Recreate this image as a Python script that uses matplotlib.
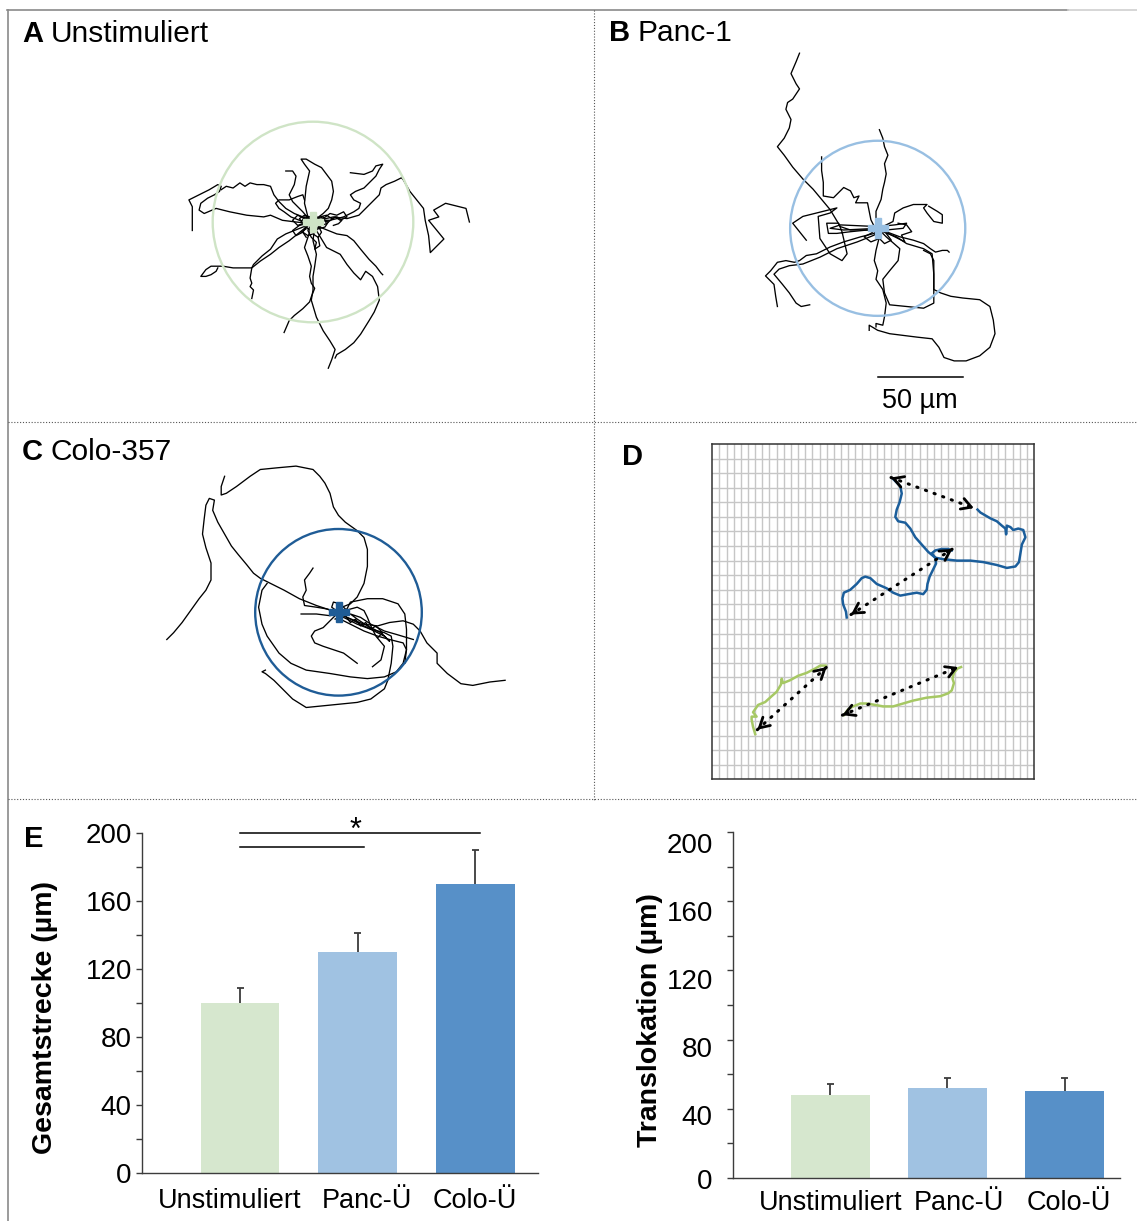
import numpy as np
import matplotlib
matplotlib.use("Agg")
import matplotlib.pyplot as plt
from matplotlib.patches import Circle
from matplotlib.transforms import ScaledTranslation

W, H = 1137, 1221
plt.rcParams['font.family'] = ['Liberation Sans', 'DejaVu Sans']

# ---- cell tracks (µm), every track starts at the common origin ----
tracks_unstim = [
    [(0, 0), (-3, 3), (-5, 11), (-4, 21), (-2, 30), (-5, 34), (-7, 37), (-4, 37), (1, 34), (5, 32),
     (8, 28), (11, 24), (12, 18), (11, 13), (9, 8), (6, 5), (2, 2)],
    [(0, 0), (-1, -1), (-10, 0), (-18, 1), (-25, 4), (-29, 3), (-39, 4), (-49, 6), (-57, 8), (-64, 5),
     (-67, 7), (-66, 11), (-62, 14), (-58, 16), (-55, 18), (-54, 21), (-56, 22), (-61, 19), (-67, 16),
     (-73, 13), (-71, 9), (-71, -5)],
    [(0, 0), (-1, 1), (-6, 3), (-11, 5), (-16, 8), (-20, 12), (-23, 16), (-25, 21), (-29, 22), (-33, 22),
     (-37, 23), (-40, 21), (-43, 23), (-47, 20), (-51, 21), (-54, 19)],
    [(0, 0), (-1, 0), (-6, 6), (-12, 12), (-14, 16), (-11, 22), (-10, 27), (-12, 30), (-16, 30)],
    [(0, 0), (-2, 0), (-8, 1), (-13, 3), (-17, 6), (-20, 8), (-22, 11), (-20, 13), (-14, 13), (-9, 15),
     (-6, 16), (-5, 13)],
    [(0, 0), (2, 1), (10, 1), (18, 3), (24, 6), (27, 8), (28, 11), (24, 13), (22, 16), (25, 18), (30, 20),
     (34, 24), (37, 27), (39, 31), (41, 34), (37, 33), (35, 30), (30, 28), (22, 29)],
    [(0, 0), (3, 1), (12, 3), (20, 2), (27, 4), (31, 8), (35, 12), (39, 16), (40, 20), (43, 22), (48, 24),
     (52, 26), (53, 25), (57, 18), (61, 13), (65, 8), (66, 1), (68, -8), (69, -18), (77, -10), (68, 1),
     (74, 3), (71, 7), (78, 11), (90, 8), (92, 0)],
    [(0, 0), (-1, -1), (-6, -3), (-11, -5), (-16, -7), (-21, -10), (-25, -16), (-30, -20), (-35, -25),
     (-36, -27), (-42, -27), (-47, -27), (-53, -26), (-57, -26), (-60, -26), (-63, -28), (-66, -32),
     (-63, -32), (-60, -31), (-57, -29), (-56, -27)],
    [(0, 0), (-4, -3), (-9, -7), (-14, -11), (-20, -15), (-25, -19), (-31, -23), (-36, -27), (-37, -33),
     (-36, -36), (-37, -38), (-35, -40), (-36, -45)],
    [(0, 0), (-1, -3), (-3, -9), (-5, -15), (-3, -20), (-1, -26), (-2, -32), (-1, -36), (1, -39),
     (-1, -44), (-2, -47), (-6, -51), (-11, -55), (-14, -58), (-17, -65)],
    [(0, 0), (1, -3), (0, -11), (2, -19), (1, -26), (0, -32), (0, -40), (-1, -46), (2, -56), (6, -64),
     (10, -70), (13, -75), (11, -81), (9, -86)],
    [(0, 0), (2, -5), (8, -15), (16, -19), (20, -25), (24, -30), (28, -34), (31, -29), (35, -32), (38, -38),
     (39, -46), (36, -53), (33, -58), (28, -66), (24, -71), (19, -75), (14, -78), (13, -80)],
    [(0, 0), (4, -3), (14, -7), (20, -8), (24, -11), (28, -16), (33, -22), (37, -26), (40, -30), (41, -31)],
    [(0, 0), (-4, -2), (-7, 0), (-5, 3), (-1, 2), (3, -1), (6, 1), (9, 0), (7, -3), (3, -4), (0, -6), (-3, -4)],
    [(0, 0), (4, 3), (8, 4), (11, 2), (14, 3), (17, 1), (15, -1), (12, -2)],
    [(0, 0), (-3, -5), (-1, -9), (2, -12), (1, -16), (4, -14), (3, -9)],
    [(0, 0), (-8, -2), (-12, -5), (-10, -8), (-6, -6), (-4, -9)],
    [(0, 0), (-3, 1), (-6, -1), (-8, 2), (-5, 4), (-2, 3), (1, 5), (3, 2), (6, 3), (8, -1), (5, -2),
     (2, -4), (-1, -2)],
    [(0, 0), (2, -3), (-1, -5), (-4, -3), (-6, -6), (-3, -8), (0, -7), (3, -9), (5, -6), (3, -2)],
    [(0, 0), (6, 2), (10, 5), (14, 4), (18, 6), (20, 3), (16, 1), (13, 3), (9, 0)],
    [(0, 0), (-5, 2), (-9, 4), (-12, 1), (-9, -2), (-6, -1), (-4, -4), (-7, -6)],
]

tracks_panc = [
    [(0, 0), (-1, -1), (-8, -1), (-16, -1), (-22, 1), (-25, 6), (-28, 11), (-33, 17), (-38, 23), (-44, 29),
     (-50, 36), (-55, 43), (-59, 48), (-55, 53), (-52, 59), (-51, 64), (-54, 70), (-53, 74), (-50, 76),
     (-46, 82), (-48, 85), (-51, 91), (-48, 98), (-46, 103)],
    [(0, 0), (0, 1), (-1, 5), (-1, 10), (2, 17), (3, 23), (4, 27), (5, 32), (4, 38), (6, 43), (4, 48),
     (3, 53), (1, 58)],
    [(0, 0), (-2, 1), (-4, 5), (-6, 15), (-13, 15), (-11, 19), (-14, 18), (-16, 22), (-20, 24), (-26, 18),
     (-32, 19), (-32, 27), (-33, 34), (-33, 42)],
    [(0, 0), (-6, -1), (-16, -2), (-24, -3), (-29, -3), (-30, 3), (-23, 3), (-21, -2), (-18, -15),
     (-21, -19), (-28, -15), (-34, -6), (-35, 7), (-28, 9), (-24, 12), (-44, 7), (-50, 3), (-46, -2),
     (-42, -7)],
    [(0, 0), (-2, -3), (-10, -5), (-20, -8), (-28, -11), (-36, -15), (-42, -16), (-46, -19), (-49, -20),
     (-54, -19), (-59, -20), (-63, -25), (-66, -28), (-61, -33), (-60, -40), (-59, -46)],
    [(0, 0), (-2, -4), (-12, -8), (-24, -12), (-34, -17), (-44, -21), (-52, -22), (-58, -24), (-61, -27),
     (-56, -33), (-52, -38), (-48, -44), (-45, -46), (-40, -45)],
    [(0, 0), (1, -5), (-1, -13), (-2, -19), (0, -25), (-1, -30), (3, -36), (5, -44), (4, -52), (3, -57),
     (-1, -56), (-1, -58)],
    [(0, 0), (3, -2), (11, -5), (17, -9), (27, -12), (32, -15), (33, -27), (33, -36), (37, -38), (43, -40),
     (50, -41), (60, -42), (66, -46), (68, -54), (69, -62), (66, -70), (60, -75), (52, -78), (45, -78),
     (39, -76), (36, -70), (32, -65), (23, -64), (15, -63), (7, -62), (0, -60), (-5, -57), (-5, -60)],
    [(0, 0), (5, -5), (13, -12), (12, -19), (7, -25), (3, -30), (4, -38), (7, -45), (17, -46), (27, -47),
     (33, -44), (33, -30), (33, -19), (31, -15), (27, -13)],
    [(0, 0), (3, 1), (9, 4), (10, 9), (15, 12), (21, 14), (29, 14), (27, 12), (29, 9), (33, 4), (38, 3),
     (38, 8), (35, 10), (30, 13)],
    [(0, 0), (5, -2), (13, -5), (21, -7), (27, -9), (31, -12), (34, -14), (38, -13), (41, -13), (42, -14)],
    [(0, 0), (-20, -1), (-28, 0), (-22, 2), (0, 1), (10, 2), (17, 3), (15, 0), (5, -1)],
    [(0, 0), (6, -3), (12, -6), (16, -8), (14, -4), (20, -2), (17, 2), (12, 3)],
    [(0, 0), (-4, -3), (-8, -5), (-4, -8), (1, -6), (4, -9), (8, -7), (5, -3)],
]

tracks_colo = [
    [(0, 0), (2, 3), (7, 5), (11, 9), (15, 17), (17, 27), (17, 37), (15, 44), (11, 48), (4, 53), (0, 57),
     (-3, 62), (-5, 70), (-8, 76), (-11, 80), (-15, 84), (-25, 86), (-36, 85), (-46, 84), (-52, 80),
     (-60, 74), (-66, 70), (-69, 69), (-69, 74), (-67, 80)],
    [(0, 0), (-4, 1), (-13, 4), (-23, 8), (-32, 13), (-40, 17), (-46, 20), (-50, 23), (-54, 28), (-59, 34),
     (-63, 39), (-67, 46), (-71, 53), (-74, 60), (-73, 66), (-76, 67), (-78, 63), (-79, 55), (-80, 46),
     (-78, 38), (-75, 29), (-75, 19), (-78, 13), (-82, 8), (-87, 1), (-92, -6), (-97, -12), (-101, -16)],
    [(0, 0), (-1, -3), (7, -7), (15, -11), (23, -14), (30, -16), (38, -18), (40, -22), (38, -30), (34, -35),
     (27, -38), (17, -39), (7, -38), (-5, -36), (-19, -34), (-28, -30), (-35, -24), (-42, -14), (-45, -7),
     (-47, 3), (-45, 13), (-42, 17)],
    [(0, 0), (3, -3), (11, -7), (19, -10), (27, -12), (31, -14), (32, -20), (31, -30), (29, -40), (27, -45),
     (19, -51), (11, -53), (1, -54), (-9, -55), (-19, -56), (-27, -51), (-32, -46), (-38, -40), (-43, -36),
     (-45, -35), (-43, -34)],
    [(0, 0), (5, -3), (15, -7), (23, -8), (30, -6), (38, -5), (44, -7), (48, -11), (52, -18), (58, -24),
     (58, -30), (64, -36), (72, -42), (79, -43), (89, -41), (98, -40)],
    [(0, 0), (5, 2), (7, 6), (17, 8), (26, 8), (35, 5), (39, -1), (40, -10), (40, -22), (39, -30)],
    [(0, 0), (-7, 2), (-13, 3), (-20, 4), (-21, 9), (-19, 13), (-20, 19), (-17, 23), (-15, 26)],
    [(0, 0), (-5, -2), (-13, -1), (-22, -1)],
    [(0, 0), (-4, -4), (-9, -9), (-14, -11), (-16, -14), (-14, -18), (-9, -20), (-3, -22), (3, -24),
     (7, -27), (11, -30)],
    [(0, 0), (3, -2), (9, -5), (15, -8), (21, -11), (27, -14), (30, -17), (25, -12), (17, -8), (11, -4),
     (7, -1), (13, -3), (19, -7), (27, -11), (34, -13), (44, -16)],
    [(0, 0), (11, 3), (15, 1), (17, -3), (19, -8), (22, -14), (27, -20), (25, -28), (20, -32)],
    [(0, 0), (-4, 3), (-3, 6), (1, 5), (4, 2), (2, -2), (-2, -4)],
    [(0, 0), (4, -2), (7, -6), (10, -4), (13, -8), (16, -6), (19, -10), (22, -8), (26, -12), (23, -15)],
]

# mean translocation radius per condition (µm)
radius_unstim, radius_panc, radius_colo = 59, 51.5, 49
scalebar_um = 50

# ---- panel D: two example tracks per group on the grid (grid units) ----
d_blue_1x = [25.3, 26.3, 26.5, 26.2, 25.8, 25.6, 26.0, 27.0, 27.7, 28.4, 29.3, 30.2, 31.2, 32.3, 34.2, 36.1,
             37.9, 39.8, 41.2, 42.4, 42.9, 43.1, 43.3, 43.8, 43.5, 42.8, 42.1, 41.7, 41.2, 41.1, 41.0, 40.5,
             39.8, 38.9, 38.2, 37.5, 37.1]
d_blue_1y = [20.6, 20.1, 19.6, 19.0, 18.5, 18.0, 17.7, 17.6, 17.2, 16.6, 16.1, 15.6, 15.2, 15.1, 15.0, 15.0,
             14.9, 14.7, 14.5, 14.6, 14.9, 15.5, 16.1, 16.6, 17.1, 17.2, 17.1, 17.3, 17.4, 16.8, 17.2, 17.4,
             17.7, 17.9, 18.1, 18.3, 18.5]
d_blue_2x = [18.8, 18.7, 18.3, 18.2, 18.4, 19.3, 20.2, 20.9, 21.4, 22.1, 23.0, 24.4, 25.3, 26.3, 27.4, 28.6,
             29.5, 30.0, 30.1, 30.4, 30.9, 31.3, 31.2, 30.7, 31.2, 32.1, 33.0, 33.5]
d_blue_2y = [11.1, 11.5, 12.0, 12.4, 12.8, 13.0, 13.4, 13.8, 13.9, 13.8, 13.4, 13.1, 12.8, 12.6, 12.7, 12.8,
             12.7, 13.0, 13.4, 13.9, 14.4, 14.8, 15.2, 15.5, 15.7, 15.8, 15.8, 15.7]
d_green_1x = [6.0, 5.7, 5.5, 5.5, 6.2, 5.7, 6.4, 7.4, 8.3, 9.0, 9.6, 9.7, 9.9, 10.9, 12.0, 13.2, 14.4, 15.1,
              15.9, 15.8]
d_green_1y = [3.1, 3.6, 4.1, 4.3, 4.3, 4.6, 5.1, 5.3, 5.7, 6.0, 6.5, 6.9, 6.6, 6.8, 7.1, 7.3, 7.6, 7.8, 7.8, 7.6]
d_green_2x = [18.4, 19.0, 19.7, 20.7, 21.6, 22.8, 23.9, 25.3, 26.7, 28.1, 30.0, 31.9, 33.0, 33.5, 33.8, 33.6,
              33.8, 34.3, 34.8]
d_green_2y = [4.4, 4.8, 5.0, 5.2, 5.2, 5.1, 5.0, 5.0, 5.2, 5.4, 5.6, 5.7, 5.9, 6.1, 6.6, 6.9, 7.3, 7.6, 7.7]
# start -> end displacement of each track
d_arrows = [((25.0, 20.7), (36.6, 18.6)), ((19.4, 11.3), (33.6, 15.8)),
            ((6.3, 3.4), (16.0, 7.7)), ((18.2, 4.4), (34.4, 7.7))]
grid_cols, grid_rows = 45, 23

# ---- panel E ----
groups = ['Unstimuliert', 'Panc-Ü', 'Colo-Ü']
gesamt = [100, 130, 170]
gesamt_err = [9, 11, 20]
transl = [48, 52, 50]
transl_err = [6.5, 6, 7.5]

green_light = '#d6e7ce'
blue_light = '#a0c2e2'
blue_mid = '#5790c8'
blue_dark = '#1f5c96'
d_green = '#a6c864'
d_blue = '#1b5e9b'

fig = plt.figure(figsize=(W / 100, H / 100), dpi=100)


def px_axes(x0, y0, x1, y1):
    return fig.add_axes([x0 / W, 1 - y1 / H, (x1 - x0) / W, (y1 - y0) / H])


def px_shift(dx, dy):
    return ScaledTranslation(dx / 100, -dy / 100, fig.dpi_scale_trans)


UM = 1.7  # pixels per µm


def track_panel(box, center, tracks, radius, color):
    x0, y0, x1, y1 = box
    cx, cy = center
    ax = px_axes(x0, y0, x1, y1)
    ax.set_xlim((x0 - cx) / UM, (x1 - cx) / UM)
    ax.set_ylim((cy - y1) / UM, (cy - y0) / UM)
    ax.axis('off')
    for tr in tracks:
        xs, ys = zip(*tr)
        ax.plot(xs, ys, color='black', lw=0.95, zorder=2)
    ax.add_patch(Circle((0, 0), radius, fill=False, ec=color, lw=1.7, zorder=3))
    ax.plot(0, 0, marker='P', ms=14, color=color, mec=color, zorder=4)
    return ax


track_panel((8, 10, 593, 421), (313, 222), tracks_unstim, radius_unstim, '#cfe4c6')
axB = track_panel((595, 10, 1137, 421), (877.7, 228.3), tracks_panc, radius_panc, '#98bfe2')
track_panel((8, 423, 593, 798), (338.5, 612.3), tracks_colo, radius_colo, blue_dark)

# scale bar
axB.plot([0, scalebar_um], [-87.6, -87.6], color='black', lw=1.1)
axB.text(scalebar_um / 2, -106, '50 µm', ha='center', va='baseline', fontsize=19.5)

# ---- D ----
axD = px_axes(712.3, 444, 1034, 779.3)
axD.set_xlim(0, grid_cols)
axD.set_ylim(0, grid_rows)
axD.set_xticks(np.arange(1, grid_cols))
axD.set_yticks(np.arange(1, grid_rows))
axD.grid(True, color='#c6c6c6', lw=1.0)
axD.tick_params(length=0, labelbottom=False, labelleft=False)
for sp in axD.spines.values():
    sp.set_color('#333333')
    sp.set_linewidth(1.1)
axD.plot(d_blue_1x, d_blue_1y, color=d_blue, lw=1.8, zorder=3)
axD.plot(d_blue_2x, d_blue_2y, color=d_blue, lw=1.8, zorder=3)
axD.plot(d_green_1x, d_green_1y, color=d_green, lw=1.8, zorder=3)
axD.plot(d_green_2x, d_green_2y, color=d_green, lw=1.8, zorder=3)
for (sx, sy), (ex, ey) in d_arrows:
    axD.plot([sx, ex], [sy, ey], color='black', lw=2.2, ls=(0, (0.4, 2.6)),
             dash_capstyle='round', zorder=4)
    for (ax_, ay_), (bx_, by_) in (((sx, sy), (ex, ey)), ((ex, ey), (sx, sy))):
        near = (bx_ + 0.05 * (ax_ - bx_), by_ + 0.05 * (ay_ - by_))
        axD.annotate('', xy=(bx_, by_), xytext=near,
                     arrowprops=dict(arrowstyle='->,head_length=0.7,head_width=0.4', lw=2.0,
                                     color='black', shrinkA=0, shrinkB=0), zorder=5)

# ---- E ----
bar_colors = [green_light, blue_light, blue_mid]
x = np.arange(len(groups))


def bar_panel(box, xlim, values, errs, ylabel, label_x, label_size, tick_pad, xpad, xshifts, yshifts):
    ax = px_axes(*box)
    ax.bar(x, values, width=0.67, color=bar_colors, zorder=2)
    tops = np.add(values, errs)
    # one-sided (upper) error bars
    ax.vlines(x, values, tops, color='#3c3c3c', lw=1.3, zorder=3)
    ax.hlines(tops, x - 0.03, x + 0.03, color='#3c3c3c', lw=1.3, zorder=3)
    ax.set_xlim(*xlim)
    ax.set_ylim(0, 200)
    ax.set_yticks(np.arange(0, 201, 40))
    ax.set_yticks(np.arange(20, 200, 40), minor=True)
    ax.set_xticks(x)
    ax.set_xticklabels(groups, fontsize=19.5)
    for side in ('top', 'right'):
        ax.spines[side].set_visible(False)
    for side in ('left', 'bottom'):
        ax.spines[side].set_color('#3c3c3c')
        ax.spines[side].set_linewidth(1.0)
    ax.tick_params(axis='y', which='both', direction='out', length=4.5, width=1.0,
                   color='#3c3c3c', labelsize=20, pad=tick_pad)
    ax.tick_params(axis='x', length=0, pad=xpad)
    for lab, dx in zip(ax.get_xticklabels(), xshifts):
        lab.set_transform(lab.get_transform() + px_shift(dx, 0))
    for lab, dy in zip(ax.get_yticklabels(), yshifts):
        lab.set_transform(lab.get_transform() + px_shift(0, dy))
    ax.set_ylabel(ylabel, fontsize=label_size, fontweight='bold')
    ax.yaxis.set_label_coords(label_x, 0.457)
    return ax


axE1 = bar_panel((141.8, 833, 537.5, 1173), (-0.836, 2.53), gesamt, gesamt_err,
                 'Gesamtstrecke (µm)', -0.212, 20.5, 2.7, 11, [-10, 9.5, 0], [0] * 6)
axE2 = bar_panel((733, 832.3, 1119.5, 1177.7), (-0.833, 2.47), transl, transl_err,
                 'Translokation (µm)', -0.182, 20.5, 10, 9, [0, 11.5, 4], [1, 6.5, 7, 9, 10, 11])

# significance bars
axE1.plot([0, 2.04], [200, 200], color='black', lw=1.1, clip_on=False)
axE1.plot([0, 1.05], [192, 192], color='black', lw=1.1, clip_on=False)
axE1.text(0.98, 196.5, '*', ha='center', va='baseline', fontsize=22, clip_on=False)

# ---- frame, separators and panel letters ----
ov = fig.add_axes([0, 0, 1, 1])
ov.set_xlim(0, W)
ov.set_ylim(H, 0)
ov.axis('off')
ov.plot([7, 1068], [9.5, 9.5], color='#8a8a8a', lw=1.2)
ov.plot([1068, 1137], [9.5, 9.5], color='#cfcfcf', lw=1.2)
ov.plot([7.5, 7.5], [9.5, H], color='#8a8a8a', lw=1.2)
ov.plot([594, 594], [10, 800], color='#555555', lw=0.8, ls=(0, (1, 1.6)))
ov.plot([8, W], [422, 422], color='#555555', lw=0.8, ls=(0, (1, 1.6)))
ov.plot([8, W], [799, 799], color='#555555', lw=0.8, ls=(0, (1, 1.6)))

titles = [('A', 'Unstimuliert', 22, 42), ('B', 'Panc-1', 609, 41), ('C', 'Colo-357', 22, 460)]
for letter, name, tx, ty in titles:
    ov.text(tx, ty, letter, fontsize=21, fontweight='bold', va='baseline')
    ov.text(tx + 29, ty, name, fontsize=21.5, va='baseline')
ov.text(622, 465, 'D', fontsize=21, fontweight='bold', va='baseline')
ov.text(24, 847, 'E', fontsize=21, fontweight='bold', va='baseline')

fig.savefig('out.png', dpi=100)
